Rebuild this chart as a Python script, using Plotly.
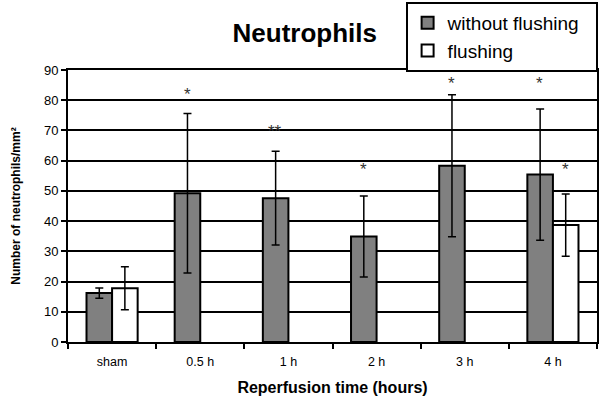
import plotly.graph_objects as go

categories = ["sham", "0.5 h", "1 h", "2 h", "3 h", "4 h"]
without_flushing = [16.2, 49.2, 47.6, 34.9, 58.3, 55.4]
without_err = [1.7, 26.4, 15.5, 13.4, 23.5, 21.7]
flushing = [17.8, None, None, None, None, 38.7]
flushing_err = [7.1, 0, 0, 0, 0, 10.3]

star_cats = ["0.5 h", "1 h", "2 h", "3 h", "4 h", "4 h"]
star_vals = [82, 69.5, 57, 85.5, 85.5, 57]
star_text = ["*", "**", "*", "*", "*", "*"]
star_series = [0, 0, 0, 0, 0, 1]

fig = go.Figure()
fig.add_trace(go.Bar(
    name="without flushing\u00a0\u00a0", x=categories, y=without_flushing,
    marker=dict(color="#808080", line=dict(color="black", width=2)),
    error_y=dict(type="data", array=without_err, color="black", thickness=1.5, width=4),
))
fig.add_trace(go.Bar(
    name="flushing", x=categories, y=flushing,
    marker=dict(color="white", line=dict(color="black", width=2)),
    error_y=dict(type="data", array=flushing_err, color="black", thickness=1.5, width=4),
))

for c, v, t, s in zip(star_cats, star_vals, star_text, star_series):
    fig.add_annotation(x=c, y=v, text=t, showarrow=False, xref="x", yref="y",
                       xshift=-13 if s == 0 else 13,
                       font=dict(family="Liberation Sans", size=17, color="#333333"))

fig.update_layout(
    width=600, height=403,
    margin=dict(l=68, r=3, t=70, b=61, autoexpand=False),
    paper_bgcolor="white", plot_bgcolor="white",
    barmode="group", bargap=0.42, bargroupgap=0,
    font=dict(family="Liberation Sans", color="black"),
    title=dict(text="<b>Neutrophils</b>", x=0.508, xanchor="center", y=0.918, yanchor="middle",
               font=dict(size=26, family="Liberation Sans", color="black")),
    showlegend=True,
    legend=dict(xref="container", yref="container", x=0.676, y=0.995,
                xanchor="left", yanchor="top",
                bordercolor="black", borderwidth=2, bgcolor="white",
                font=dict(size=19, family="Liberation Sans"),
                traceorder="normal", tracegroupgap=0, itemwidth=30),
)
fig.update_xaxes(
    title=dict(text="<b>Reperfusion time (hours)</b>", font=dict(size=16), standoff=14),
    showline=True, linecolor="black", linewidth=2, mirror=True,
    ticks="outside", tickson="boundaries", ticklen=5, tickcolor="black", tickwidth=1.5,
    tickfont=dict(size=12.5), ticklabelstandoff=7, showgrid=False,
)
fig.update_yaxes(
    title=dict(text="<b>Number of neutrophils/mm²</b>", font=dict(size=12), standoff=21),
    range=[0, 90], dtick=10,
    showline=True, linecolor="black", linewidth=2, mirror=True,
    ticks="outside", ticklen=5, tickcolor="black", tickwidth=1.5,
    tickfont=dict(size=13),
    showgrid=True, gridcolor="black", gridwidth=2, zeroline=False,
)

fig.write_html("out.html", config={"displayModeBar": False},
               post_script="document.body.style.margin='0px';")
